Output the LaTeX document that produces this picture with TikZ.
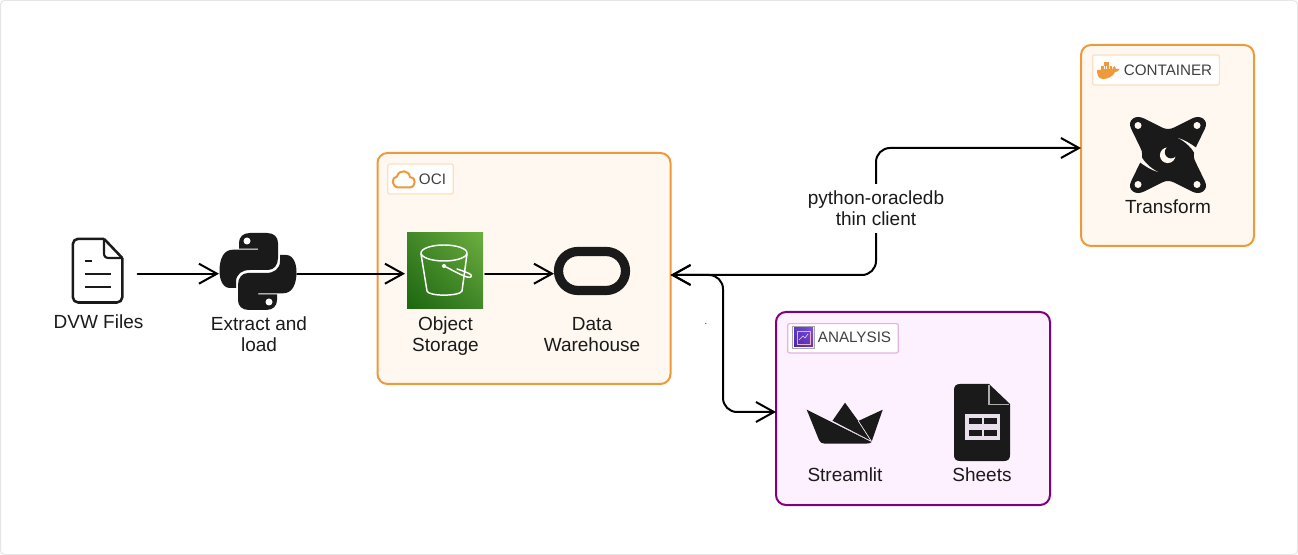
\documentclass[tikz,border=0pt]{standalone}
\usepackage{fontspec}
\setmainfont{Liberation Sans}
\usetikzlibrary{arrows.meta,calc,shadings}
\definecolor{ink}{HTML}{1A1A1A}
\definecolor{badgeink}{HTML}{404040}
\definecolor{orangeline}{HTML}{EE9A3A}
\definecolor{orangefill}{HTML}{FFF8F1}
\definecolor{orangebadge}{HTML}{FBDFBE}
\definecolor{purpleline}{HTML}{800080}
\definecolor{purplefill}{HTML}{FDF0FF}
\definecolor{purplebadge}{HTML}{E2B4E2}
\definecolor{frameline}{HTML}{E6E6E6}
\definecolor{gA}{HTML}{1B660F}
\definecolor{gB}{HTML}{6CAE3E}
\definecolor{gM}{HTML}{418728}
\definecolor{pA}{HTML}{4D27A8}
\definecolor{pB}{HTML}{7D50E1}
\definecolor{pM}{HTML}{5F37C3}
\tikzset{
  x=0.75pt,y=-0.75pt,
  >={Straight Barb[length=13.5pt,width=15pt]},
  conn/.style={draw=black,line width=1.5pt,line cap=round,line join=round,rounded corners=10.5pt},
  group/.style={draw,rectangle,rounded corners=7.5pt,line width=1.5pt,outer sep=0pt,inner sep=0pt},
  ocibox/.style={group,draw=orangeline,fill=orangefill},
  anabox/.style={group,draw=purpleline,fill=purplefill},
  badge/.style={draw,rectangle,rounded corners=1.5pt,line width=0.9pt,fill=white,inner sep=0pt,outer sep=0pt},
  badgetext/.style={font=\fontsize{11.4}{13}\selectfont,text=badgeink,inner sep=0pt},
  label/.style={font=\fontsize{14.25}{15.75}\selectfont,text=ink,align=center,inner sep=0pt},
  slot/.style={rectangle,inner sep=0pt,outer sep=0pt},
}
\begin{document}
\begin{tikzpicture}
\useasboundingbox (0,0) rectangle (1298,555);
\fill[white] (0,0) rectangle (1298,555);
\draw[frameline,line width=0.75pt,rounded corners=3pt] (0.5,0.5) rectangle (1297.5,554.5);

% groups
\node[ocibox,minimum width=219.75pt,minimum height=173.25pt] (oci) at (524,268.5) {};
\node[ocibox,minimum width=129.75pt,minimum height=150.75pt] (cont) at (1167.5,145.5) {};
\node[anabox,minimum width=205.5pt,minimum height=144.75pt] (ana) at (913,408.5) {};

% badges
\node[badge,draw=orangebadge,minimum width=49pt,minimum height=22.5pt] (ociB) at (420.5,179) {};
\node[badge,draw=orangebadge,minimum width=95pt,minimum height=22.5pt] (contB) at (1156,70) {};
\node[badge,draw=purplebadge,minimum width=83pt,minimum height=22pt] (anaB) at (843,338.3) {};
\node[badgetext] (ociT) at (432.5,179.5) {OCI};
\node[badgetext] (contT) at (1168,70.5) {CONTAINER};
\node[badgetext] (anaT) at (854.5,337.5) {ANALYSIS};

% icon slots (anchors for the connectors)
\node[slot,minimum width=38.25pt,minimum height=60pt] (dvw) at (97.5,273.7) {};
\node[slot,minimum width=58.5pt,minimum height=58.5pt] (py) at (258,273.7) {};
\node[slot,minimum width=57pt,minimum height=57pt] (bucket) at (445,271) {};
\node[slot,minimum width=57pt,minimum height=36pt] (wh) at (592,271) {};
\coordinate (riser) at (876,207);
\coordinate (bus) at (723,340);

% connectors
\draw[conn,->,shorten <=11pt] (dvw.east) -- (py.west);
\draw[conn,->,shorten >=1.5pt] (py.east) -- (bucket.west |- py.east);
\draw[conn,->,shorten <=1.5pt] (bucket.east |- py.east) -- (wh.west |- py.east);
\draw[conn,<->] ($(oci.east)+(0,6.5)$) -| (riser) |- ($(cont.west)+(0,2.5)$);
\draw[conn,<->] ($(oci.east)+(0,6.5)$) -| (bus) |- ($(ana.west)+(0,3.5)$);

% connector label
\node[label,fill=white,minimum width=105pt,minimum height=37pt] (client) at (876,208.3) {python-oracledb\\thin client};
\node[font=\fontsize{7}{8}\selectfont,inner sep=0pt,anchor=base,text=ink] (dot) at (706,324.5) {.};

% document icon
\draw[ink,line width=1.9pt,line join=round,rounded corners=4pt] (104,238.8) -- (72.8,238.8) -- (72.8,302.5) -- (122.3,302.5) -- (122.3,258);
\draw[ink,line width=1.9pt,line join=round] (104,238.8) -- (122.3,258) ;
\draw[ink,line width=1.6pt,line join=round] (104,238.8) -- (104,253) .. controls (104,256.5) and (105.5,258) .. (109,258) -- (122.3,258);
\draw[ink,line width=1.5pt] (85,261.5) -- (92,261.5);
\draw[ink,line width=1.5pt] (85,274) -- (111,274);
\draw[ink,line width=1.5pt] (85,287) -- (111,287);

% python icon
\def\snake{(250,233) -- (267,233) .. controls (274,233) and (278,237) .. (278,243) -- (278,258) .. controls (278,265) and (274,270) .. (268,270) -- (250,270) .. controls (242,270) and (236,274) .. (236,282) -- (236,288) -- (230,288) .. controls (223,288) and (219.5,280) .. (219.5,271) .. controls (219.5,258) and (224,249.7) .. (233,249.7) -- (258,249.7) -- (258,248.7) -- (239,248.7) -- (239,243) .. controls (239,237) and (243,233) .. (250,233) -- cycle}
\fill[ink] \snake;
\fill[white] (247,241) circle[radius=3.5];
\begin{scope}[rotate around={180:(258,271.5)}]
\fill[ink] \snake;
\fill[white] (247,241) circle[radius=3.5];
\end{scope}

% bucket icon
\shade[lower left=gA,upper right=gB,upper left=gM,lower right=gM] (407,233) rectangle (483,309);
\begin{scope}[white,line width=1.1pt,line join=round,line cap=round]
\draw (444,253) ellipse[x radius=23,y radius=8];
\draw (421,254) -- (427,291) .. controls (428,296.5) and (460,296.5) .. (462,291) -- (467,254);
\draw (444,266) .. controls (452,270) and (462,275.5) .. (467,277) .. controls (472,278.5) and (473,275) .. (469,273.5) .. controls (466,272) and (460,270) .. (457,269);
\fill (444,266) circle[radius=2];
\end{scope}

% oracle icon
\draw[ink,line width=6.9pt,rounded corners=14.6pt] (558.5,251.5) rectangle (625.5,290.5);

% cloud icon
\draw[orangeline,line width=1.5pt,line join=round] (399,187.5) -- (409,187.5) .. controls (417,187.5) and (416,176.5) .. (410,177) .. controls (409,170) and (399,169) .. (397,176.5) .. controls (391,177) and (391,187.5) .. (399,187.5) -- cycle;

% docker icon
\fill[orangeline] (1097,70) -- (1112,70) .. controls (1112.5,68) and (1113.5,66.5) .. (1114.5,66) .. controls (1115.5,67) and (1116,68) .. (1116,69) .. controls (1117.5,68.5) and (1118.5,68.5) .. (1119.5,69.5) .. controls (1118,71.5) and (1116.5,72) .. (1115,72) .. controls (1113,76.5) and (1108,79) .. (1103,79) .. controls (1098.5,79) and (1097,75) .. (1097,70) -- cycle;
\fill[orangeline] (1101,66.5) rectangle (1112,70.5);
\fill[orangeline] (1104,62.5) rectangle (1109,67);
\foreach \cx in {1103.8,1106.6,1109.4}{\draw[orangefill,line width=0.25pt] (\cx,66.5) -- (\cx,69.5);}

% dbt icon
\fill[ink] (1133,118.5) .. controls (1136,116.5) and (1140,116.5) .. (1144,118.5) -- (1162,127.5) .. controls (1166,129.5) and (1170,129.5) .. (1174,127.5) -- (1192,118.5) .. controls (1196,116.5) and (1200,116.5) .. (1203,118.5) .. controls (1206,121) and (1207,124) .. (1205,128.5) -- (1196,147) .. controls (1193,152) and (1193,158) .. (1196,163) -- (1205,181.5) .. controls (1207,186) and (1206,189) .. (1203,191.5) .. controls (1200,193.5) and (1196,193.5) .. (1192,191.5) -- (1174,182.5) .. controls (1170,180.5) and (1166,180.5) .. (1162,182.5) -- (1144,191.5) .. controls (1140,193.5) and (1136,193.5) .. (1133,191.5) .. controls (1130,189) and (1129,186) .. (1131,181.5) -- (1140,163) .. controls (1143,158) and (1143,152) .. (1140,147) -- (1131,128.5) .. controls (1129,124) and (1130,121) .. (1133,118.5) -- cycle;
\foreach \hx/\hy in {1138/125.5,1197/125.5,1138/184.5,1197/184.5}{\fill[orangefill] (\hx,\hy) circle[radius=3.5];}
\fill[orangefill] (1178,138) .. controls (1185,140) and (1191,144) .. (1196.5,148) -- (1194.5,153) .. controls (1192,148.5) and (1186,142) .. (1178,138) -- cycle;
\fill[orangefill] (1158,172) .. controls (1151,170) and (1145,166) .. (1139.5,162) -- (1141.5,157) .. controls (1144,161.5) and (1150,168) .. (1158,172) -- cycle;
\fill[orangefill] (1167.7,155.3) circle[radius=7.8];
\fill[ink] (1171,152.2) circle[radius=6.2];

% analysis badge icon
\fill[white] (792.5,326.5) rectangle (814.5,348.5);
\draw[gray!70,line width=0.6pt] (792.5,326.5) rectangle (814.5,348.5);
\shade[lower left=pA,upper right=pB,upper left=pM,lower right=pM] (794,328) rectangle (813,347);
\draw[white!70!purple,line width=0.4pt] (797,331) rectangle (810,344);
\draw[white!80!purple,line width=0.5pt] (799,340) -- (803,336) -- (805,338) -- (808,334);

% streamlit icon
\fill[ink] (845,402.7) -- (858.3,421) -- (871.5,442) -- (832.3,421) -- cycle;
\fill[ink] (882.7,409.7) -- (871.5,442) -- (858.3,421) -- cycle;
\fill[ink] (806.7,409.7) -- (871.5,442) -- (870,443) .. controls (869.5,443.3) and (868,443.5) .. (867,443.5) -- (824,443.5) .. controls (822,443.5) and (820,442.5) .. (819,440) -- cycle;
\draw[purplefill,line width=0.5pt] (832,421) -- (871.5,441.5);
\draw[purplefill,line width=0.5pt] (858.3,421) -- (871.5,441.5);

% sheets icon
\fill[ink] (960,384) -- (989,384) -- (1010,404) -- (1010,455) .. controls (1010,459) and (1008,461) .. (1004,461) -- (960,461) .. controls (956,461) and (954,459) .. (954,455) -- (954,390) .. controls (954,386) and (956,384) .. (960,384) -- cycle;
\draw[gray!65,line width=0.8pt] (989,385) -- (989,404.5) -- (1009,404.5);
\fill[purplefill!85!gray] (965,414) rectangle (1000,439.5);
\foreach \tx/\ty in {969/418,984/418,969/430,984/430}{\fill[ink] (\tx,\ty) rectangle ++(12.5,6);}

% labels
\node[label] (dvwL) at (98.5,322) {DVW Files};
\node[label] (pyL) at (259,334) {Extract and\\load};
\node[label] (bucketL) at (445.5,336) {Object\\Storage};
\node[label] (whL) at (592,334.2) {Data\\Warehouse};
\node[label] (dbtL) at (1168,206.7) {Transform};
\node[label] (slL) at (845,475) {Streamlit};
\node[label] (shL) at (982,475) {Sheets};
\end{tikzpicture}
\end{document}
